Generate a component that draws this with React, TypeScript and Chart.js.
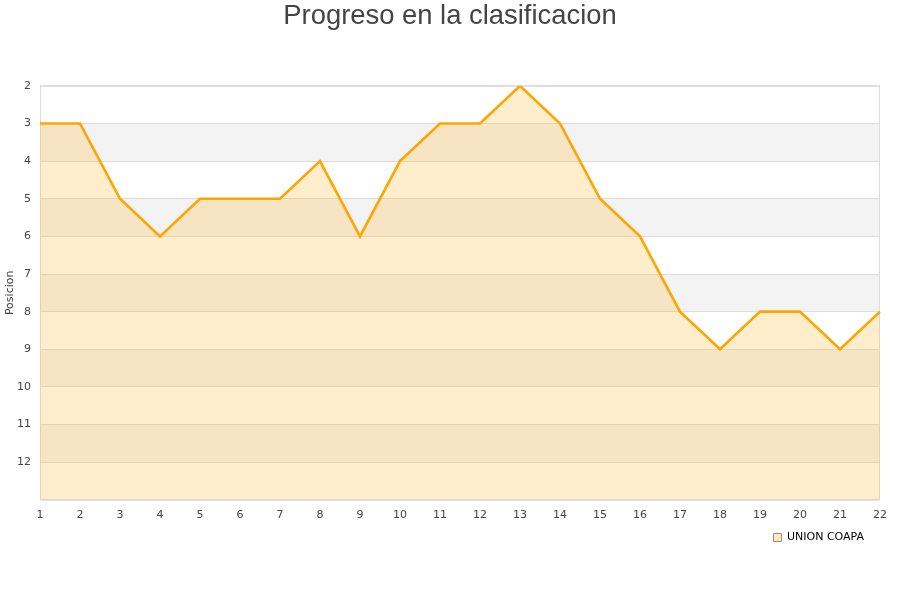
import { useEffect, useRef } from 'react';
import Chart, { type Plugin } from 'chart.js/auto';

// matchdays 1-22 and the team position after each one
const JORNADAS: string[] = Array.from({ length: 22 }, (_, i) => String(i + 1));
const POSICIONES: number[] = [3, 3, 5, 6, 5, 5, 5, 4, 6, 4, 3, 3, 2, 3, 5, 6, 8, 9, 8, 8, 9, 8];
const TEAM = 'UNION COAPA';
const Y_MIN = 2;
const Y_MAX = 13;

const TICK_FONT = { family: '"DejaVu Sans", sans-serif', size: 11 };

// grey stripes on every other row of the grid, plus a frame round the plot
const stripes: Plugin<'line'> = {
  id: 'stripes',
  afterLayout(chart) {
    // legend sits a bit in from the right edge of the plot
    if (chart.legend) chart.legend.right = chart.chartArea.right - 7;
  },
  beforeDraw(chart) {
    const { ctx, chartArea } = chart;
    const y = chart.scales.y;
    ctx.save();
    ctx.fillStyle = '#f3f3f3';
    for (let v = Y_MIN + 1; v < Y_MAX; v += 2) {
      const a = y.getPixelForValue(v);
      const b = y.getPixelForValue(v + 1);
      ctx.fillRect(chartArea.left, Math.min(a, b), chartArea.right - chartArea.left, Math.abs(b - a));
    }
    ctx.restore();
  },
  beforeDatasetsDraw(chart) {
    const { ctx, chartArea } = chart;
    ctx.save();
    ctx.strokeStyle = '#dddddd';
    ctx.lineWidth = 1;
    ctx.strokeRect(chartArea.left + 0.5, chartArea.top + 0.5, chartArea.right - chartArea.left - 1, chartArea.bottom - chartArea.top);
    ctx.restore();
  },
};

export default function App() {
  const canvasRef = useRef<HTMLCanvasElement>(null);

  useEffect(() => {
    if (!canvasRef.current) return;

    const chart = new Chart(canvasRef.current, {
      type: 'line',
      data: {
        labels: JORNADAS,
        datasets: [
          {
            label: TEAM,
            data: POSICIONES,
            borderColor: '#ffa500',
            backgroundColor: 'rgba(255, 183, 51, 0.25)',
            borderWidth: 2.6,
            pointRadius: 0,
            tension: 0,
            fill: 'start',
          },
        ],
      },
      options: {
        animation: false,
        responsive: false,
        layout: { padding: { left: 4, right: 4, top: 0, bottom: 47 } },
        plugins: {
          title: {
            display: true,
            text: 'Progreso en la clasificacion',
            color: '#444444',
            font: { family: '"Liberation Sans", Arial, sans-serif', size: 27.4, weight: 'normal' },
            padding: { top: 0, bottom: 53 },
          },
          legend: {
            position: 'bottom',
            align: 'end',
            fullSize: false,
            labels: {
              color: '#111111',
              font: TICK_FONT,
              boxWidth: 8,
              boxHeight: 8,
              padding: 9,
              generateLabels: (c) =>
                c.data.datasets.map((ds, i) => ({
                  text: ds.label ?? '',
                  fillStyle: '#ffe9c4',
                  strokeStyle: '#9a8a70',
                  lineWidth: 1,
                  datasetIndex: i,
                  hidden: false,
                })),
            },
          },
          tooltip: { enabled: false },
        },
        scales: {
          x: {
            offset: false,
            grid: { display: false },
            border: { display: false },
            ticks: {
              color: '#444444',
              font: TICK_FONT,
              maxRotation: 0,
              autoSkip: false,
              padding: 1,
            },
          },
          y: {
            reverse: true,
            min: Y_MIN,
            max: Y_MAX,
            grid: { color: '#dddddd', drawTicks: false },
            border: { display: false },
            ticks: {
              stepSize: 1,
              color: '#444444',
              font: TICK_FONT,
              padding: 9,
              callback: (v) => (Number(v) >= Y_MAX ? '' : String(v)),
            },
            title: {
              display: true,
              text: 'Posicion',
              color: '#444444',
              font: { family: '"DejaVu Sans", sans-serif', size: 11 },
              padding: { top: 0, bottom: 2 },
            },
            afterFit: (s) => {
              s.width = 36;
            },
          },
          // empty axis on the right, only to keep the plot off the edge
          y2: {
            position: 'right',
            display: true,
            grid: { display: false },
            border: { display: false },
            ticks: { display: false },
            afterFit: (s) => {
              s.width = 16;
            },
          },
        },
      },
      plugins: [stripes],
    });

    return () => {
      chart.destroy();
    };
  }, []);

  return (
    <div style={{ position: 'absolute', left: 0, top: 0, width: 900, height: 600, background: '#fff' }}>
      <canvas ref={canvasRef} width={900} height={600} />
    </div>
  );
}
